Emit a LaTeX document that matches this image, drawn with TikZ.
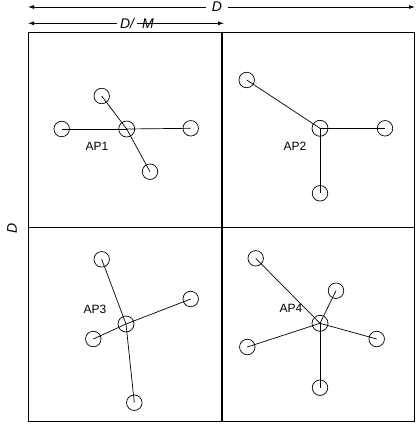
\documentclass[tikz,border=0pt]{standalone}
\usepackage{fontspec}
\setmainfont{Liberation Sans}
\usetikzlibrary{arrows.meta}
\begin{document}
\begin{tikzpicture}[x=1pt,y=-1pt,
  sta/.style={circle,draw,line width=0.7pt,minimum size=15.5pt,inner sep=0pt},
  hub/.style={circle,draw,line width=0.7pt,minimum size=16pt,inner sep=0pt},
  link/.style={line width=0.7pt},
  aplabel/.style={font=\fontsize{12}{13}\selectfont,inner sep=0pt},
  dimlabel/.style={font=\fontsize{14}{15}\selectfont\itshape,inner sep=1pt},
  dimarrow/.style={line width=0.8pt,{Latex[length=6pt,width=4pt]}-{Latex[length=6pt,width=4pt]}},
  border/.style={line width=1pt},
  divider/.style={line width=1.6pt}]
\useasboundingbox (0,0) rectangle (415,428);
% dimension arrows
\coordinate (dl) at (28,7);
\coordinate (dr) at (415,7);
\coordinate (ml) at (28,23.3);
\coordinate (mr) at (224,23.3);
\draw[dimarrow] (dl) -- (dr);
\node[dimlabel,fill=white,inner xsep=6pt] (dlab) at (217,7) {D};
\draw[dimarrow] (ml) -- (mr);
\node[dimlabel,fill=white,inner xsep=3pt] (mlab) at (127,23.3) {D/};
\node[dimlabel] (mlab2) at (148,23.3) {M};
\node[dimlabel,rotate=90] (sidelab) at (12,228) {D};
% grid
\coordinate (tl) at (28,33);
\coordinate (br) at (414.5,421);
\draw[border] (tl) rectangle (br);
\coordinate (vt) at (221.7,33);
\coordinate (vb) at (221.7,421);
\coordinate (hl) at (28,227.5);
\coordinate (hr) at (414.5,227.5);
\draw[divider] (vt) -- (vb);
\draw[divider] (hl) -- (hr);
% quadrant 1
\node[hub] (h1) at (126.7,129) {};
\node[sta] (a1) at (61.7,129) {};
\node[sta] (b1) at (190.7,128.3) {};
\node[sta] (c1) at (101.7,96) {};
\node[sta] (d1) at (150,171.7) {};
\node[aplabel] (l1) at (97,146.7) {AP1};
\foreach \s in {a1,b1,c1,d1} \draw[link] (h1.center) -- (\s.center);
% quadrant 2
\node[hub] (h2) at (320,128.3) {};
\node[sta] (a2) at (246.7,80) {};
\node[sta] (b2) at (385,128.3) {};
\node[sta] (c2) at (320,193.3) {};
\node[aplabel] (l2) at (295,146.7) {AP2};
\foreach \s in {a2,b2,c2} \draw[link] (h2.center) -- (\s.center);
% quadrant 3
\node[hub] (h3) at (126,324) {};
\node[sta] (a3) at (101.7,259.3) {};
\node[sta] (b3) at (190.7,299) {};
\node[sta] (c3) at (93.3,339) {};
\node[sta] (d3) at (134.3,402.7) {};
\node[aplabel] (l3) at (95,309.3) {AP3};
\foreach \s in {a3,b3,c3,d3} \draw[link] (h3.center) -- (\s.center);
% quadrant 4
\node[hub] (h4) at (320,323.3) {};
\node[sta] (a4) at (255.7,258.3) {};
\node[sta] (b4) at (336,290.7) {};
\node[sta] (c4) at (376.7,339) {};
\node[sta] (d4) at (247.3,347) {};
\node[sta] (e4) at (320,387.7) {};
\node[aplabel] (l4) at (291,308.3) {AP4};
\foreach \s in {a4,b4,c4,d4,e4} \draw[link] (h4.center) -- (\s.center);
\end{tikzpicture}
\end{document}
